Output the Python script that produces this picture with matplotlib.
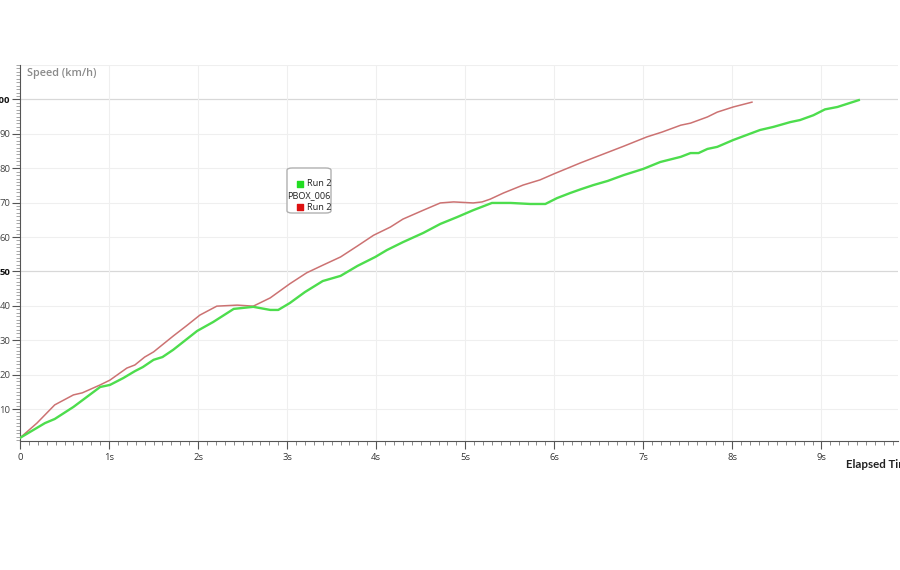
import matplotlib
matplotlib.use("Agg")
import matplotlib.pyplot as plt
from matplotlib.ticker import MultipleLocator, FixedLocator
from matplotlib.patches import FancyBboxPatch

# ---- data (elapsed time in s, speed in km/h) ----
green_t = [0.0, 0.28, 0.39, 0.6, 0.9, 1.01, 1.16, 1.29, 1.38, 1.5, 1.6, 1.72, 1.99,
           2.17, 2.4, 2.62, 2.81, 2.9, 3.03, 3.2, 3.4, 3.6, 3.79, 3.99, 4.12, 4.3,
           4.53, 4.72, 4.91, 5.09, 5.3, 5.51, 5.73, 5.9, 6.03, 6.18, 6.3, 6.44, 6.6,
           6.78, 7.0, 7.19, 7.42, 7.53, 7.62, 7.72, 7.83, 8.01, 8.31, 8.46, 8.65,
           8.76, 8.91, 9.04, 9.18, 9.42]
green_v = [1.6, 5.9, 7.1, 10.6, 16.4, 17.0, 19.0, 21.0, 22.2, 24.3, 25.1, 27.2, 32.7,
           35.3, 39.1, 39.7, 38.8, 38.8, 40.8, 44.0, 47.2, 48.7, 51.6, 54.2, 56.2, 58.5,
           61.2, 63.8, 65.8, 67.8, 69.9, 69.9, 69.6, 69.6, 71.3, 72.8, 73.9, 75.1, 76.3,
           78.0, 79.8, 81.8, 83.3, 84.4, 84.4, 85.6, 86.2, 88.2, 91.1, 92.0, 93.4,
           94.0, 95.4, 97.1, 97.8, 99.8]

red_t = [0.0, 0.19, 0.39, 0.6, 0.7, 0.9, 1.01, 1.2, 1.29, 1.4, 1.5, 1.72, 1.87, 2.02,
         2.21, 2.44, 2.62, 2.81, 3.03, 3.22, 3.4, 3.6, 3.79, 3.97, 4.16, 4.3, 4.53,
         4.72, 4.87, 5.09, 5.19, 5.28, 5.43, 5.65, 5.84, 6.0, 6.15, 6.29, 6.52, 6.78,
         7.04, 7.21, 7.42, 7.53, 7.72, 7.83, 8.01, 8.22]
red_v = [1.6, 5.9, 11.2, 14.1, 14.7, 17.0, 18.4, 21.9, 22.8, 25.1, 26.6, 31.2, 34.2, 37.3,
         39.9, 40.2, 39.9, 42.3, 46.4, 49.6, 51.8, 54.2, 57.4, 60.5, 62.9, 65.2, 67.8,
         69.9, 70.2, 69.9, 70.2, 71.0, 72.8, 75.1, 76.6, 78.4, 80.0, 81.5, 83.8, 86.4,
         89.1, 90.5, 92.5, 93.1, 94.9, 96.3, 97.8, 99.2]

x_ticks = [0, 1, 2, 3, 4, 5, 6, 7, 8, 9]
x_labels = ["0", "1s", "2s", "3s", "4s", "5s", "6s", "7s", "8s", "9s"]
y_ticks = [10, 20, 30, 40, 50, 60, 70, 80, 90, 100]
y_labels = ["10", "20", "30", "40", "50", "60", "70", "80", "90", "100"]
legend_labels = ["Run 2", "PBOX_006", "Run 2"]

plt.rcParams['font.family'] = ['Open Sans', 'DejaVu Sans']

fig = plt.figure(figsize=(9, 5.7), dpi=100)
ax = fig.add_axes([20/900, (570-441)/570, 878/900, 376/570])

ax.set_xlim(0, 9.86)
ax.set_ylim(0.7, 110)

# grid
for v in range(10, 111, 10):
    col = "#d8d8d8" if v in (50, 100) else "#efefef"
    ax.axhline(v, color=col, lw=0.9 if v in (50, 100) else 0.8, zorder=0)
for t in x_ticks[1:]:
    ax.axvline(t, color="#efefef", lw=0.8, zorder=0)

ax.plot(red_t, red_v, color="#cc7272", lw=1.1, zorder=3)
ax.plot(green_t, green_v, color="#4ddd4d", lw=1.7, zorder=4)

for s in ("top", "right"):
    ax.spines[s].set_visible(False)
for s in ("left", "bottom"):
    ax.spines[s].set_color("#555555")
    ax.spines[s].set_linewidth(0.8)

ax.xaxis.set_major_locator(FixedLocator(x_ticks))
ax.set_xticklabels(x_labels)
ax.xaxis.set_minor_locator(MultipleLocator(0.1))
ax.yaxis.set_major_locator(FixedLocator(y_ticks))
ax.set_yticklabels(y_labels)
ax.yaxis.set_minor_locator(MultipleLocator(1))

ax.tick_params(axis="x", which="major", direction="out", length=6, width=0.8,
               color="#555555", labelsize=6.8, labelcolor="#333333", pad=3)
ax.tick_params(axis="x", which="minor", direction="out", length=3, width=0.6, color="#777777")
ax.tick_params(axis="y", which="major", direction="out", length=6, width=0.8,
               color="#555555", labelsize=6.8, labelcolor="#444444", pad=1)
ax.tick_params(axis="y", which="minor", direction="out", length=3, width=0.6, color="#999999")
for lab in ax.get_yticklabels():
    if lab.get_text() in ("50", "100"):
        lab.set_color("#111111")
        lab.set_fontweight("bold")

ax.text(0.008, 0.993, "Speed (km/h)", transform=ax.transAxes, ha="left", va="top",
        fontsize=7.8, color="#8a8a8a", fontweight="semibold")
fig.text(846/900, (570-465)/570, "Elapsed Time", ha="left", va="center",
         fontsize=8.3, color="#222222", fontweight="bold", family=["Lato", "DejaVu Sans"])

# legend box
bx0, bx1 = (287-20)/878, (331-20)/878
by0, by1 = (441-213)/376, (441-168)/376
box = FancyBboxPatch((bx0, by0), bx1-bx0, by1-by0, transform=ax.transAxes,
                     boxstyle="round,pad=0,rounding_size=0.006", fc="white",
                     ec="#b0b0b0", lw=1.0, zorder=6)
ax.add_patch(box)
cx = (bx0 + bx1) / 2
rows = [(441-184)/376, (441-195.5)/376, (441-207.5)/376]
sq = [("#22dd22", rows[0]), (None, rows[1]), ("#dd1111", rows[2])]
for (col, yy), lab in zip(sq, legend_labels):
    if col is None:
        ax.text(cx, yy, lab, transform=ax.transAxes, ha="center", va="center",
                fontsize=6.6, color="#222222", zorder=7)
    else:
        ax.scatter([cx - 9/878], [yy], transform=ax.transAxes, marker="s", s=22,
                   color=col, zorder=7, clip_on=False)
        ax.text(cx - 2/878, yy, lab, transform=ax.transAxes, ha="left", va="center",
                fontsize=6.6, color="#222222", zorder=7)

fig.savefig("out.png", dpi=100)
